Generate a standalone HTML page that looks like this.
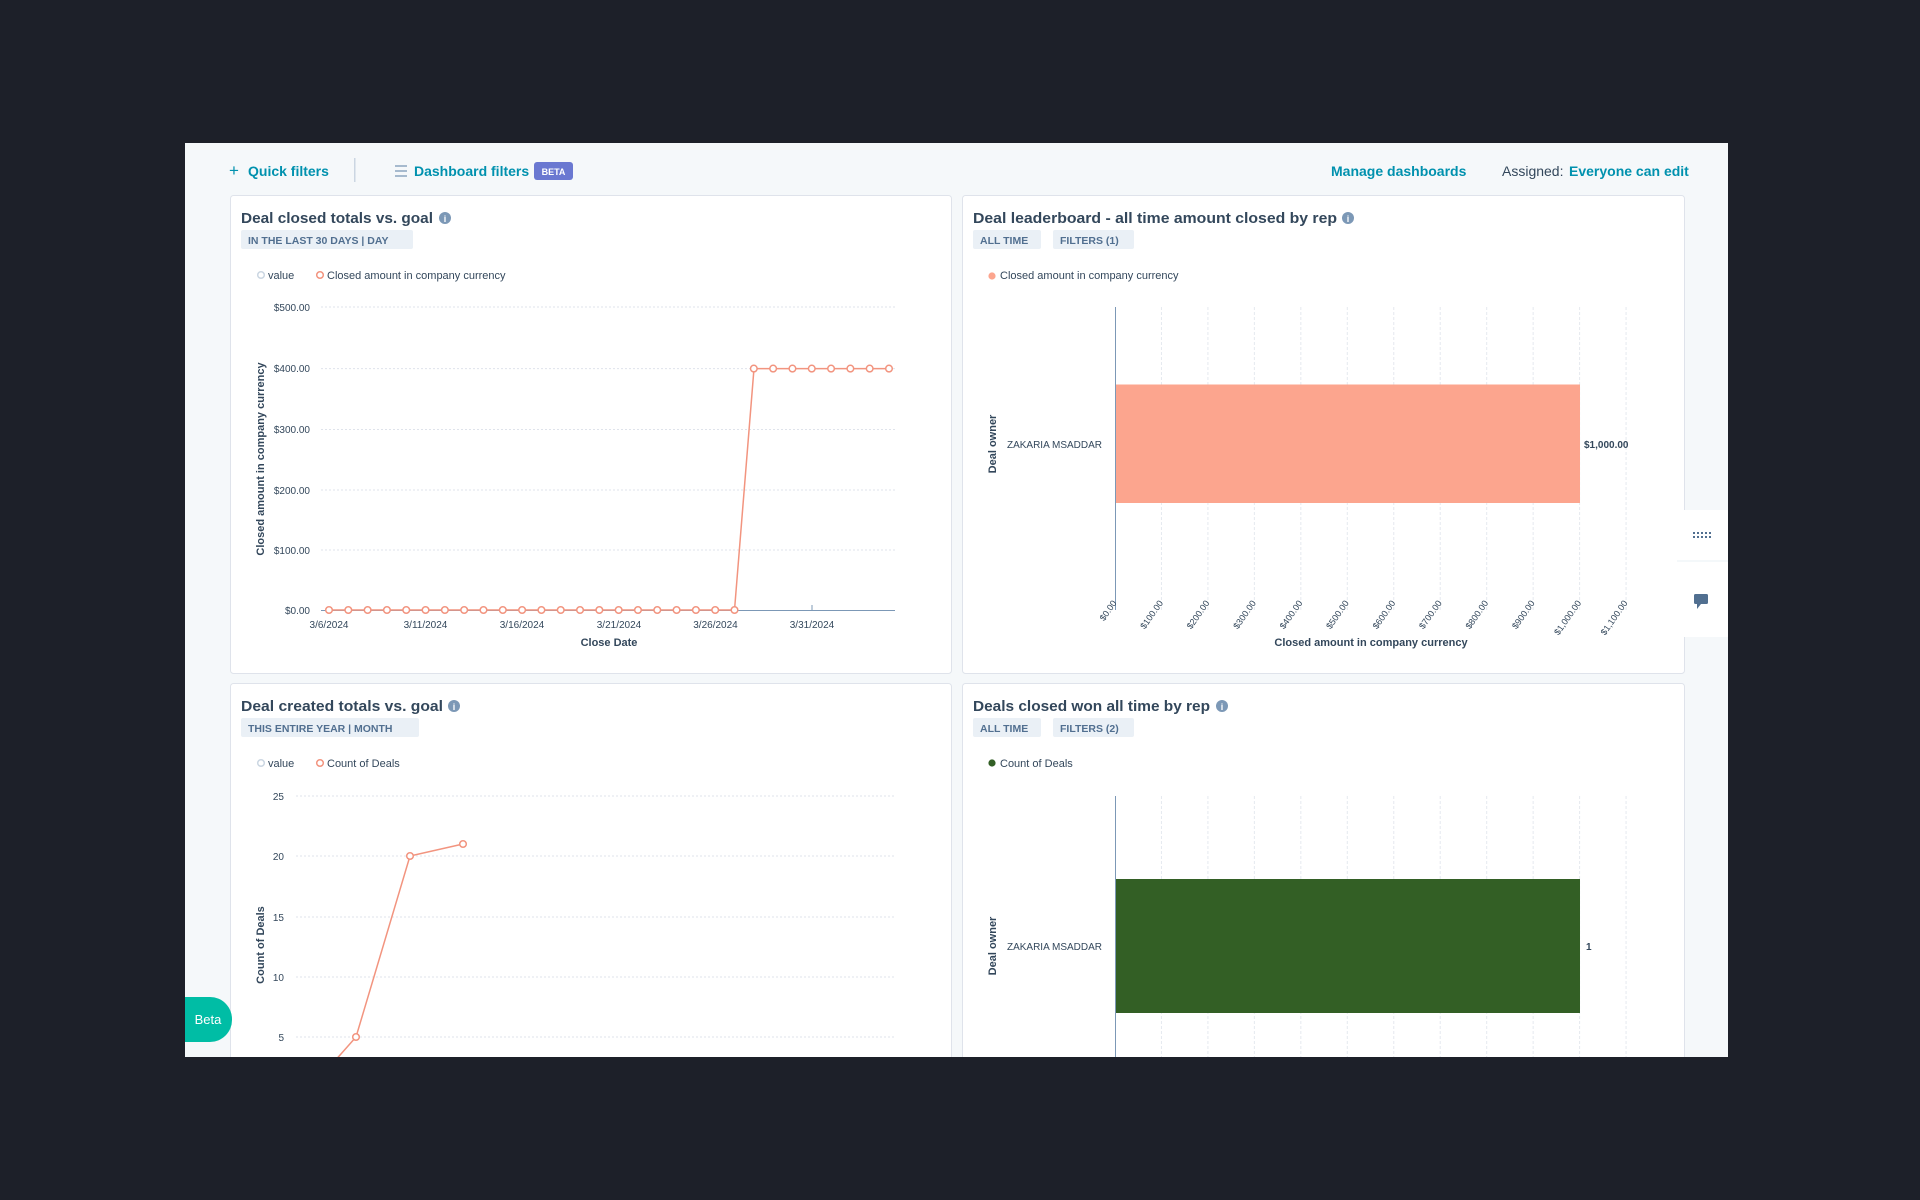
<!DOCTYPE html>
<html><head><meta charset="utf-8"><style>
html,body{margin:0;padding:0;background:#1d2029;width:1920px;height:1200px;overflow:hidden}
svg{display:block}
text{font-family:"Liberation Sans",sans-serif}
</style></head><body>
<svg width="1920" height="1200" viewBox="0 0 1920 1200" xmlns="http://www.w3.org/2000/svg">
<defs><clipPath id="pg"><rect x="185" y="143" width="1543" height="914"/></clipPath></defs>
<rect width="1920" height="1200" fill="#1d2029"/>
<g clip-path="url(#pg)">
<rect x="185" y="143" width="1543" height="914" fill="#f5f8fa"/>
<!-- top bar -->
<text x="229" y="176" font-size="17" fill="#0091ae">+</text>
<text x="248" y="176" font-size="14" font-weight="bold" fill="#0091ae">Quick filters</text>
<rect x="354" y="158" width="1.5" height="24" fill="#cbd6e2"/>
<g stroke="#7c98b6" stroke-width="1.3"><line x1="395" y1="166" x2="407" y2="166"/><line x1="395" y1="171" x2="407" y2="171"/><line x1="395" y1="176" x2="407" y2="176"/></g>
<text x="414" y="176" font-size="14" font-weight="bold" fill="#0091ae">Dashboard filters</text>
<rect x="534" y="162" width="39" height="18" rx="3" fill="#6a78d1"/>
<text x="553.5" y="175" font-size="9" font-weight="bold" fill="#fff" text-anchor="middle">BETA</text>
<text x="1331" y="176" font-size="14" font-weight="bold" fill="#0091ae">Manage dashboards</text>
<text x="1502" y="176" font-size="14" fill="#33475b">Assigned:</text>
<text x="1569" y="176" font-size="14" font-weight="bold" fill="#0091ae">Everyone can edit</text>

<!-- cards -->
<g fill="#fff" stroke="#dfe3eb" stroke-width="1">
<rect x="230.5" y="195.5" width="721" height="478" rx="3"/>
<rect x="962.5" y="195.5" width="722" height="478" rx="3"/>
<rect x="230.5" y="683.5" width="721" height="420" rx="3"/>
<rect x="962.5" y="683.5" width="722" height="420" rx="3"/>
</g>

<!-- Card1 -->
<text x="241" y="223" font-size="15" font-weight="bold" fill="#33475b" textLength="192" lengthAdjust="spacingAndGlyphs">Deal closed totals vs. goal</text>
<circle cx="445" cy="218" r="6" fill="#7c98b6"/><text x="445" y="222" font-size="9" fill="#fff" text-anchor="middle" font-weight="bold">i</text>
<rect x="241" y="230" width="172" height="19" rx="2" fill="#eaf0f6"/>
<text x="248" y="244" font-size="10.5" font-weight="bold" fill="#516f90">IN THE LAST 30 DAYS | DAY</text>
<circle cx="261" cy="275" r="3.3" fill="none" stroke="#cbd6e2" stroke-width="1.5"/>
<text x="268" y="279" font-size="11" fill="#33475b">value</text>
<circle cx="320" cy="275" r="3.3" fill="none" stroke="#f2947f" stroke-width="1.5"/>
<text x="327" y="279" font-size="11" fill="#33475b">Closed amount in company currency</text>
<g stroke="#dfe3eb" stroke-dasharray="2,2"><line x1="321" y1="307" x2="895" y2="307"/><line x1="321" y1="368.6" x2="895" y2="368.6"/><line x1="321" y1="429.5" x2="895" y2="429.5"/><line x1="321" y1="490" x2="895" y2="490"/><line x1="321" y1="550" x2="895" y2="550"/></g>
<g font-size="10" fill="#33475b" text-anchor="end"><text x="310" y="311">$500.00</text><text x="310" y="372">$400.00</text><text x="310" y="433">$300.00</text><text x="310" y="494">$200.00</text><text x="310" y="554">$100.00</text><text x="310" y="614">$0.00</text></g>
<line x1="321" y1="610.5" x2="895" y2="610.5" stroke="#7c98b6" stroke-width="1"/>
<line x1="812" y1="605" x2="812" y2="610" stroke="#7c98b6"/>
<g font-size="10" fill="#33475b" text-anchor="middle"><text x="329" y="628">3/6/2024</text><text x="425.5" y="628">3/11/2024</text><text x="522" y="628">3/16/2024</text><text x="619" y="628">3/21/2024</text><text x="715.5" y="628">3/26/2024</text><text x="812" y="628">3/31/2024</text></g>
<text x="609" y="646" font-size="11" font-weight="bold" fill="#33475b" text-anchor="middle">Close Date</text>
<text transform="translate(264,459) rotate(-90)" font-size="11" font-weight="bold" fill="#33475b" text-anchor="middle">Closed amount in company currency</text>
<polyline fill="none" stroke="#f2947f" stroke-width="1.5" points="329,610 734.5,610 754,368.6 889,368.6"/>
<g fill="#fff" stroke="#f2947f" stroke-width="1.5" id="pts1"></g>

<!-- Card2 -->
<text x="973" y="223" font-size="15" font-weight="bold" fill="#33475b" textLength="364" lengthAdjust="spacingAndGlyphs">Deal leaderboard - all time amount closed by rep</text>
<circle cx="1348" cy="218" r="6" fill="#7c98b6"/><text x="1348" y="222" font-size="9" fill="#fff" text-anchor="middle" font-weight="bold">i</text>
<rect x="973" y="230" width="68" height="19" rx="2" fill="#eaf0f6"/>
<text x="980" y="244" font-size="10.5" font-weight="bold" fill="#516f90">ALL TIME</text>
<rect x="1053" y="230" width="81" height="19" rx="2" fill="#eaf0f6"/>
<text x="1060" y="244" font-size="10.5" font-weight="bold" fill="#516f90">FILTERS (1)</text>
<circle cx="992" cy="276" r="3.6" fill="#fca58e"/>
<text x="1000" y="279" font-size="11" fill="#33475b">Closed amount in company currency</text>
<g id="g2" stroke="#e5e9ef" stroke-dasharray="3,2"></g>
<rect x="1115" y="384.5" width="465" height="118.5" fill="#fca58e"/>
<line x1="1115.5" y1="307" x2="1115.5" y2="610" stroke="#7c98b6"/>
<text x="1584" y="448" font-size="10" font-weight="bold" fill="#33475b">$1,000.00</text>
<text x="1102" y="448" font-size="10" fill="#33475b" text-anchor="end">ZAKARIA MSADDAR</text>
<text transform="translate(996,444) rotate(-90)" font-size="11" font-weight="bold" fill="#33475b" text-anchor="middle">Deal owner</text>
<g id="t2" font-size="9" fill="#33475b" text-anchor="end"></g>
<text x="1371" y="646" font-size="11" font-weight="bold" fill="#33475b" text-anchor="middle">Closed amount in company currency</text>

<!-- Card3 -->
<text x="241" y="711" font-size="15" font-weight="bold" fill="#33475b" textLength="202" lengthAdjust="spacingAndGlyphs">Deal created totals vs. goal</text>
<circle cx="454" cy="706" r="6" fill="#7c98b6"/><text x="454" y="710" font-size="9" fill="#fff" text-anchor="middle" font-weight="bold">i</text>
<rect x="241" y="718" width="178" height="19" rx="2" fill="#eaf0f6"/>
<text x="248" y="732" font-size="10.5" font-weight="bold" fill="#516f90">THIS ENTIRE YEAR | MONTH</text>
<circle cx="261" cy="763" r="3.3" fill="none" stroke="#cbd6e2" stroke-width="1.5"/>
<text x="268" y="767" font-size="11" fill="#33475b">value</text>
<circle cx="320" cy="763" r="3.3" fill="none" stroke="#f2947f" stroke-width="1.5"/>
<text x="327" y="767" font-size="11" fill="#33475b">Count of Deals</text>
<g stroke="#dfe3eb" stroke-dasharray="2,2"><line x1="296" y1="796" x2="895" y2="796"/><line x1="296" y1="856" x2="895" y2="856"/><line x1="296" y1="917" x2="895" y2="917"/><line x1="296" y1="977" x2="895" y2="977"/><line x1="296" y1="1037" x2="895" y2="1037"/></g>
<g font-size="10" fill="#33475b" text-anchor="end"><text x="284" y="800">25</text><text x="284" y="860">20</text><text x="284" y="921">15</text><text x="284" y="981">10</text><text x="284" y="1041">5</text></g>
<text transform="translate(264,945) rotate(-90)" font-size="11" font-weight="bold" fill="#33475b" text-anchor="middle">Count of Deals</text>
<polyline fill="none" stroke="#f2947f" stroke-width="1.5" points="302,1098 356,1037 410,856 463,844"/>
<g fill="#fff" stroke="#f2947f" stroke-width="1.5"><circle cx="356" cy="1037" r="3.3"/><circle cx="410" cy="856" r="3.3"/><circle cx="463" cy="844" r="3.3"/></g>

<!-- Card4 -->
<text x="973" y="711" font-size="15" font-weight="bold" fill="#33475b" textLength="237" lengthAdjust="spacingAndGlyphs">Deals closed won all time by rep</text>
<circle cx="1222" cy="706" r="6" fill="#7c98b6"/><text x="1222" y="710" font-size="9" fill="#fff" text-anchor="middle" font-weight="bold">i</text>
<rect x="973" y="718" width="68" height="19" rx="2" fill="#eaf0f6"/>
<text x="980" y="732" font-size="10.5" font-weight="bold" fill="#516f90">ALL TIME</text>
<rect x="1053" y="718" width="81" height="19" rx="2" fill="#eaf0f6"/>
<text x="1060" y="732" font-size="10.5" font-weight="bold" fill="#516f90">FILTERS (2)</text>
<circle cx="992" cy="763" r="3.6" fill="#335f25"/>
<text x="1000" y="767" font-size="11" fill="#33475b">Count of Deals</text>
<g id="g4" stroke="#e5e9ef" stroke-dasharray="3,2"></g>
<rect x="1115" y="879" width="465" height="134" fill="#335f25"/>
<line x1="1115.5" y1="796" x2="1115.5" y2="1060" stroke="#7c98b6"/>
<text x="1586" y="950" font-size="10" font-weight="bold" fill="#33475b">1</text>
<text x="1102" y="950" font-size="10" fill="#33475b" text-anchor="end">ZAKARIA MSADDAR</text>
<text transform="translate(996,946) rotate(-90)" font-size="11" font-weight="bold" fill="#33475b" text-anchor="middle">Deal owner</text>

<!-- side widget -->
<rect x="1677" y="510" width="55" height="127" rx="6" fill="#fff"/>
<line x1="1677" y1="561" x2="1728" y2="561" stroke="#eaf0f6"/>
<g fill="#516f90" id="dots"></g>
<rect x="1694" y="594" width="14" height="10" rx="1.5" fill="#516f90"/><polygon points="1697,604 1697,609 1701,604" fill="#516f90"/>

<!-- beta button -->
<path d="M185,997 H210 A22,22 0 0 1 232,1019 V1020 A22,22 0 0 1 210,1042 H185 Z" fill="#00bda5"/>
<text x="208" y="1024" font-size="13" fill="#fff" text-anchor="middle">Beta</text>
</g>
<script>
var ns="http://www.w3.org/2000/svg";
var p=document.getElementById("pts1");
for(var i=0;i<30;i++){var c=document.createElementNS(ns,"circle");c.setAttribute("cx",329+i*19.31);c.setAttribute("cy",i<22?610:368.6);c.setAttribute("r",3.3);p.appendChild(c);}
var d=document.getElementById("dots");
for(var r=0;r<2;r++)for(var q=0;q<5;q++){var e=document.createElementNS(ns,"rect");e.setAttribute("x",1693+q*4);e.setAttribute("y",532+r*4);e.setAttribute("width",2);e.setAttribute("height",2);d.appendChild(e);}
var g2=document.getElementById("g2"),g4=document.getElementById("g4"),t2=document.getElementById("t2");
var labs=["$0.00","$100.00","$200.00","$300.00","$400.00","$500.00","$600.00","$700.00","$800.00","$900.00","$1,000.00","$1,100.00"];
for(var k=0;k<12;k++){var x=1115+k*46.46;
 if(k>0){var l=document.createElementNS(ns,"line");l.setAttribute("x1",x);l.setAttribute("x2",x);l.setAttribute("y1",307);l.setAttribute("y2",610);g2.appendChild(l);
 var l2=document.createElementNS(ns,"line");l2.setAttribute("x1",x);l2.setAttribute("x2",x);l2.setAttribute("y1",796);l2.setAttribute("y2",1060);g4.appendChild(l2);}
 var t=document.createElementNS(ns,"text");t.setAttribute("x",x+2);t.setAttribute("y",603);t.setAttribute("transform","rotate(-55,"+(x+2)+",603)");t.textContent=labs[k];t2.appendChild(t);}
</script>
</svg>
</body></html>
